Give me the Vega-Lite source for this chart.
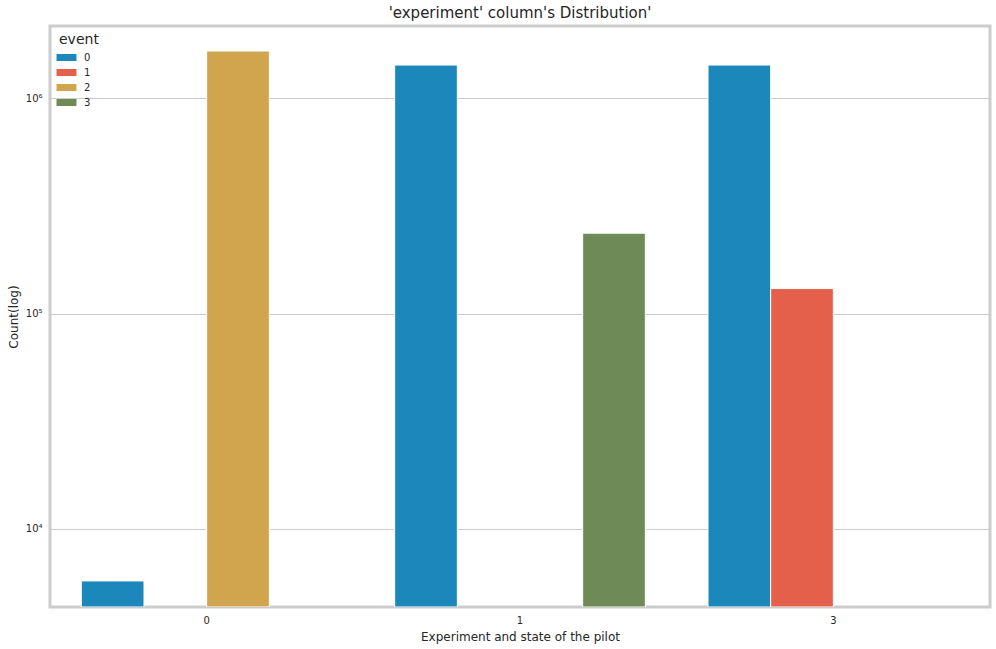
{
  "$schema": "https://vega.github.io/schema/vega-lite/v6.json",
  "autosize": {"type": "none"},
  "width": 940,
  "height": 581,
  "padding": {"left": 50, "top": 26, "right": 6, "bottom": 42},
  "background": "white",
  "title": {"text": "'experiment' column's Distribution'", "font": "DejaVu Sans", "fontSize": 15, "fontWeight": "normal", "color": "#262626", "offset": 5},
  "config": {
    "font": "DejaVu Sans",
    "view": {"stroke": "#cccccc", "strokeWidth": 3}
  },
  "data": {"values": [
    {"experiment": "0", "event": "0", "count": 5740},
    {"experiment": "0", "event": "2", "count": 1653000},
    {"experiment": "1", "event": "0", "count": 1423000},
    {"experiment": "1", "event": "3", "count": 236000},
    {"experiment": "3", "event": "0", "count": 1423000},
    {"experiment": "3", "event": "1", "count": 130600}
  ]},
  "mark": {"type": "bar", "stroke": "white", "strokeWidth": 1, "opacity": 1, "clip": true},
  "encoding": {
    "x": {"field": "experiment", "type": "nominal", "sort": ["0", "1", "3"],
      "scale": {"paddingInner": 0, "paddingOuter": 0},
      "axis": {"title": "Experiment and state of the pilot", "labelAngle": 0, "labelFontSize": 10, "labelColor": "#262626", "titleFontSize": 12, "titleFontWeight": "normal", "titleColor": "#262626", "ticks": false, "domain": false, "grid": false, "labelPadding": 8, "titlePadding": 6}},
    "xOffset": {"field": "event", "type": "nominal", "scale": {"domain": ["0", "1", "2", "3"], "paddingInner": 0, "paddingOuter": 0.5}},
    "y": {"field": "count", "type": "quantitative",
      "scale": {"type": "log", "domain": [4345, 2160000], "nice": false, "zero": false},
      "axis": {"title": "Count(log)", "values": [10000, 100000, 1000000], "labelExpr": "datum.value == 10000 ? '10⁴' : datum.value == 100000 ? '10⁵' : '10⁶'", "labelFontSize": 10, "labelColor": "#262626", "titleFontSize": 12, "titleFontWeight": "normal", "titleColor": "#262626", "ticks": false, "domain": false, "grid": true, "gridColor": "#cccccc", "gridWidth": 1, "labelPadding": 8, "titlePadding": 5}},
    "y2": {"datum": 4345},
    "color": {"field": "event", "type": "nominal",
      "scale": {"domain": ["0", "1", "2", "3"], "range": ["#1c87ba", "#e4604a", "#d0a54e", "#6d8a57"]},
      "legend": {"orient": "none", "legendX": 9, "legendY": 7, "title": "event", "titleFontSize": 14, "titleFontWeight": "normal", "titleColor": "#262626", "labelFontSize": 10, "labelColor": "#262626", "symbolType": "M-1.33,-0.467L1.33,-0.467L1.33,0.467L-1.33,0.467Z", "symbolSize": 225, "symbolStrokeWidth": 0, "symbolOpacity": 1, "rowPadding": 2, "labelOffset": 10, "titlePadding": 3}}
  }
}
